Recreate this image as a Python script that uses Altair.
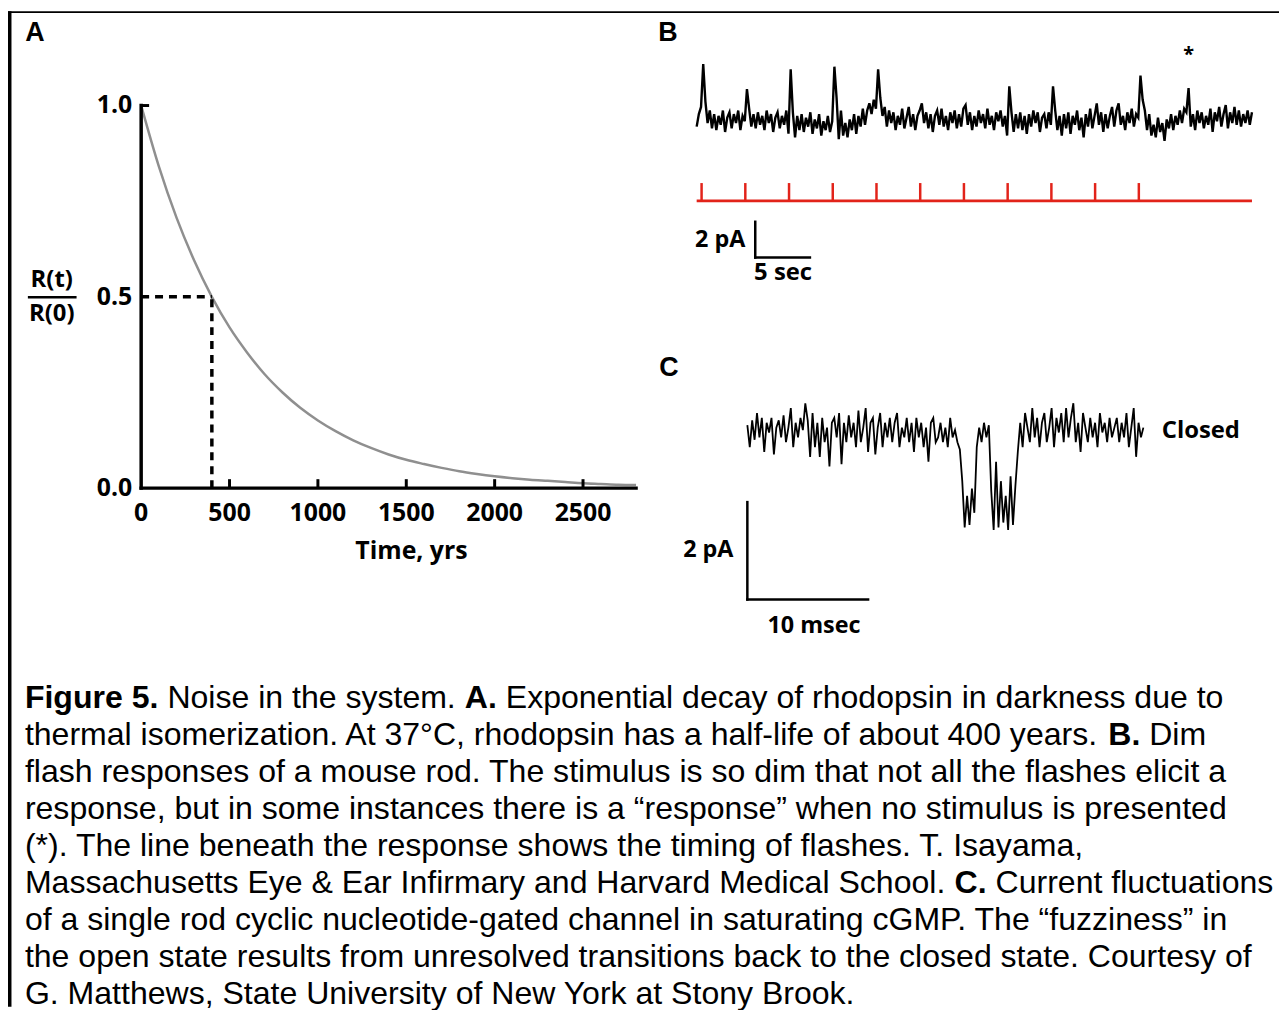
import altair as alt
import pandas as pd

# ---------------- data ----------------
# Panel A: exponential decay of rhodopsin (half-life about 400 years)
decay_years = [0, 100, 200, 300, 400, 500, 600, 700, 800, 900, 1000, 1100, 1200, 1300,
               1400, 1500, 1600, 1700, 1800, 1900, 2000, 2100, 2200, 2300, 2400, 2500,
               2600, 2700, 2800]
decay_fraction = [1.000, 0.841, 0.707, 0.595, 0.500, 0.420, 0.354, 0.297, 0.250, 0.210,
                  0.177, 0.149, 0.125, 0.105, 0.088, 0.074, 0.063, 0.053, 0.044, 0.037,
                  0.031, 0.026, 0.022, 0.019, 0.016, 0.013, 0.011, 0.009, 0.008]
half_life_years = 400
half_fraction = 0.5
a_x_ticks = [500, 1000, 1500, 2000, 2500]
a_x_labels = ["0", "500", "1000", "1500", "2000", "2500"]
a_x_label_values = [0, 500, 1000, 1500, 2000, 2500]
a_y_labels = ["0.0", "0.5", "1.0"]
a_y_label_values = [0.0, 0.5, 1.0]

# Panel B: dim flash responses of a mouse rod (pA), one sample every 0.2 s
b_dt = 0.2
b_current = [
    -0.4, 0.3, 0.7, 3.1, 1.0, -0.2, 0.5, -0.5, 0.3, -0.6,
    0.2, -0.3, 0.5, -0.7, 0.1, 0.4, -0.5, 0.3, -0.2, 0.5,
    -0.6, 0.2, -0.1, 1.7, 0.6, -0.4, 0.3, -0.5, 0.4, -0.3,
    0.2, -0.6, 0.5, -0.2, 0.3, -0.7, 0.1, 0.4, -0.5, 0.2,
    -0.3, 0.5, -0.8, 2.8, 0.4, -1.0, 0.2, -0.6, 0.3, -0.7,
    0.1, -0.4, 0.4, -0.8, 0.0, -0.5, 0.3, -0.9, -0.1, -0.6,
    0.2, -0.7, -0.1, 2.95, 1.2, -1.1, 0.5, -0.9, -0.2, -1.0,
    0.0, -0.6, 0.3, -0.8, 0.2, -0.4, 0.6, -0.3, 0.5, 0.9,
    0.3, 1.1, 0.6, 2.8, 1.2, 0.2, 0.7, -0.4, 0.5, -0.2,
    0.4, -0.6, 0.2, -0.3, 0.6, -0.5, 0.1, 0.7, -0.4, 0.3,
    -0.6, 0.2, 0.5, 0.9, -0.2, 0.4, -0.5, 0.3, -0.7, 0.2,
    0.5, -0.3, 0.6, -0.4, 0.2, -0.6, 0.4, -0.2, 0.5, -0.5,
    0.3, -0.4, 0.6, 0.8, -0.3, 0.4, -0.6, 0.2, -0.4, 0.5,
    -0.2, 0.3, -0.5, 0.6, -0.3, 0.2, -0.6, 0.4, -0.1, 0.5,
    -0.4, 0.2, -0.9, 1.85, 0.4, -0.7, 0.3, -0.5, 0.4, -0.6,
    0.2, -0.8, 0.3, -0.4, 0.5, -0.2, 0.4, -0.7, 0.1, 0.3,
    -0.5, 0.4, -0.3, 1.85, 0.5, -0.6, 0.2, -0.9, 0.3, -0.5,
    0.4, -0.8, 0.2, -0.3, 0.5, -0.6, 0.1, -1.0, 0.3, -0.4,
    0.6, -0.5, 0.2, 0.9, -0.3, 0.4, -0.7, 0.3, -0.5, 0.2,
    0.7, -0.4, 0.5, 0.9, -0.3, 0.2, -0.6, 0.4, -0.2, 0.6,
    -0.4, 0.3, 0.1, 2.45, 1.1, 0.5, -0.6, 0.3, -0.9, -0.3,
    -1.0, 0.1, -0.7, -0.2, -1.2, 0.0, -0.5, 0.3, -0.6, 0.2,
    -0.3, 0.5, -0.2, 0.6, 0.4, 1.75, -0.4, 0.3, -0.6, 0.5,
    -0.2, 0.4, -0.5, 0.2, -0.3, 0.6, -0.7, 0.4, -0.1, 0.7,
    -0.4, 0.3, 0.8, -0.5, 0.4, -0.2, 0.7, -0.3, 0.5, -0.4,
    0.3, -0.2, 0.5, -0.3, 0.4,
]
b_flash_times = [0.45, 4.45, 8.45, 12.45, 16.45, 20.45, 24.45, 28.45, 32.45, 36.45, 40.45]
b_star_time = 45.0
b_bar_pA = 2
b_bar_sec = 5

# Panel C: single CNG channel current (pA, 0 = closed), one sample every 0.2 ms
c_dt = 0.2
c_current = [
    0.15, -0.30, 0.25, -0.15, 0.40, -0.10, 0.30, -0.40, 0.20, 0.00,
    0.30, -0.45, 0.10, 0.25, -0.10, 0.35, -0.20, 0.10, 0.50, -0.30,
    0.20, -0.10, 0.30, 0.05, 0.60, 0.25, -0.50, 0.40, -0.30, 0.20,
    -0.50, 0.30, -0.20, 0.10, -0.70, 0.20, 0.30, -0.10, 0.40, -0.65,
    0.20, -0.20, 0.35, -0.10, 0.20, -0.30, 0.45, -0.20, 0.10, 0.50,
    -0.40, 0.20, 0.30, -0.45, 0.10, 0.40, -0.30, 0.20, -0.10, 0.30,
    -0.20, 0.20, 0.40, -0.30, 0.10, -0.10, 0.30, -0.20, 0.20, -0.40,
    0.30, -0.10, 0.20, -0.30, 0.10, -0.60, 0.20, 0.30, -0.20, -0.10,
    0.20, -0.20, 0.10, -0.30, 0.30, -0.10, 0.05, -0.20, -0.35,
    -1.00, -1.95, -1.30, -1.90, -1.15, -1.65, -0.30,
    0.10, -0.20, 0.20, -0.10, 0.15,
    -1.20, -2.00, -0.60, -1.95, -1.00, -1.85, -1.30, -2.00, -0.90, -1.90, -1.10, -0.40,
    0.20, -0.30, 0.40, 0.10, -0.20, 0.50, -0.10, 0.30, -0.30, 0.20,
    0.40, -0.20, 0.10, 0.50, -0.30, 0.30, 0.00, 0.40, -0.20, 0.50,
    -0.10, 0.30, 0.60, -0.20, 0.20, -0.40, 0.40, 0.10, -0.20, 0.30,
    -0.10, 0.20, -0.30, 0.40, 0.00, 0.20, -0.20, 0.30, -0.10, 0.10,
    0.30, -0.20, 0.20, -0.10, 0.40, -0.30, 0.10, 0.50, -0.50, 0.20,
    -0.10, 0.10,
]
c_bar_pA = 2
c_bar_ms = 10

# Caption (segments: text, bold)
caption_lines = [
    [("Figure 5.", True), (" Noise in the system. ", False), ("A.", True),
     (" Exponential decay of rhodopsin in darkness due to", False)],
    [("thermal isomerization. At 37\u00b0C, rhodopsin has a half-life of about 400 years. ", False),
     ("B.", True), (" Dim", False)],
    [("flash responses of a mouse rod. The stimulus is so dim that not all the flashes elicit a", False)],
    [("response, but in some instances there is a \u201cresponse\u201d when no stimulus is presented", False)],
    [("(*). The line beneath the response shows the timing of flashes. T. Isayama,", False)],
    [("Massachusetts Eye & Ear Infirmary and Harvard Medical School. ", False), ("C.", True),
     (" Current fluctuations", False)],
    [("of a single rod cyclic nucleotide-gated channel in saturating cGMP. The \u201cfuzziness\u201d in", False)],
    [("the open state results from unresolved transitions back to the closed state. Courtesy of", False)],
    [("G. Matthews, State University of New York at Stony Brook.", False)],
]

# ---------------- layout ----------------
W, H = 1279, 1002
LBL_FONT = "Open Sans"
CAP_FONT = "Liberation Sans"
CAP_SIZE = 32.25

# Arial / Helvetica advance widths (1/1000 em) used to place bold runs inside caption lines
REG = {' ': 278, '.': 278, ',': 278, '(': 333, ')': 333, '*': 389, '&': 667, '-': 333,
       '\u201c': 333, '\u201d': 333, '\u00b0': 400,
       'A': 667, 'B': 667, 'C': 722, 'D': 722, 'E': 667, 'F': 611, 'G': 778, 'H': 722, 'I': 278,
       'J': 500, 'K': 667, 'L': 556, 'M': 833, 'N': 722, 'O': 778, 'P': 667, 'Q': 778, 'R': 722,
       'S': 667, 'T': 611, 'U': 722, 'V': 667, 'W': 944, 'X': 667, 'Y': 667, 'Z': 611,
       'a': 556, 'b': 556, 'c': 500, 'd': 556, 'e': 556, 'f': 278, 'g': 556, 'h': 556, 'i': 222,
       'j': 222, 'k': 500, 'l': 222, 'm': 833, 'n': 556, 'o': 556, 'p': 556, 'q': 556, 'r': 333,
       's': 500, 't': 278, 'u': 556, 'v': 500, 'w': 722, 'x': 500, 'y': 500, 'z': 500}
BOLD = {' ': 278, '.': 278, 'A': 722, 'B': 722, 'C': 722, 'F': 611, 'i': 278, 'g': 611,
        'u': 611, 'r': 389, 'e': 556}


def tw(s, bold):
    tab = BOLD if bold else REG
    return sum(tab.get(ch, 556) for ch in s) * CAP_SIZE / 1000.0


rows = []
for i, segs in enumerate(caption_lines):
    cx = 17.0
    cy = 701.5 + 37.2 * i
    for text, bold in segs:
        lead = len(text) - len(text.lstrip(' '))
        rows.append({"text": text.strip(), "x": cx + tw(' ' * lead, bold), "y": cy, "bold": bold})
        cx += tw(text, bold)
cap_df = pd.DataFrame(rows)

one = pd.DataFrame({"d": [0]})

A_X = alt.Scale(domain=[0, 2800], range=[134, 632], nice=False, zero=False)
A_Y = alt.Scale(domain=[0, 1], range=[480, 95], nice=False, zero=False)
B_X = alt.Scale(domain=[0, 50], range=[693, 1243], nice=False, zero=False)
B_Y = alt.Scale(domain=[-8, 4], range=[253, 37], nice=False, zero=False)
C_X = alt.Scale(domain=[0, 33], range=[744, 744 + 33 * 12.15], nice=False, zero=False)
C_Y = alt.Scale(domain=[-3.5, 1], range=[424 + 3.5 * 49, 424 - 49], nice=False, zero=False)


def label(text, x, y, size=22, align="center", baseline="middle", font=LBL_FONT, weight="bold"):
    return alt.Chart(one).mark_text(text=text, align=align, baseline=baseline, font=font,
                                    fontSize=size, fontWeight=weight, color="black").encode(
        x=alt.value(x), y=alt.value(y))


layers = []

# frame of the figure
layers.append(alt.Chart(one).mark_rect(color="black").encode(
    x=alt.value(0), x2=alt.value(W), y=alt.value(0), y2=alt.value(2)))
layers.append(alt.Chart(one).mark_rect(color="black").encode(
    x=alt.value(0), x2=alt.value(3.5), y=alt.value(0), y2=alt.value(H)))

# ---------- Panel A ----------
dfA = pd.DataFrame({"t": decay_years, "r": decay_fraction})
layers.append(alt.Chart(dfA).mark_line(color="#8f8f8f", strokeWidth=2.5, interpolate="monotone").encode(
    x=alt.X("t:Q", scale=A_X, axis=None), y=alt.Y("r:Q", scale=A_Y, axis=None)))

dfHalf = pd.DataFrame({"t0": [0], "t1": [half_life_years], "r0": [0.0], "r1": [half_fraction]})
layers.append(alt.Chart(dfHalf).mark_rule(color="black", strokeWidth=3.5, strokeDash=[8, 6]).encode(
    x=alt.X("t0:Q", scale=A_X, axis=None), x2="t1:Q", y=alt.Y("r1:Q", scale=A_Y, axis=None)))
layers.append(alt.Chart(dfHalf).mark_rule(color="black", strokeWidth=3.5, strokeDash=[8, 6]).encode(
    x=alt.X("t1:Q", scale=A_X, axis=None), y=alt.Y("r0:Q", scale=A_Y, axis=None), y2="r1:Q"))

dfAx = pd.DataFrame({"x0": [0], "x1": [2800], "y0": [0.0], "y1": [1.0]})
layers.append(alt.Chart(dfAx).mark_rule(color="black", strokeWidth=3.5, strokeCap="square").encode(
    x=alt.X("x0:Q", scale=A_X, axis=None), x2="x1:Q", y=alt.Y("y0:Q", scale=A_Y, axis=None)))
layers.append(alt.Chart(dfAx).mark_rule(color="black", strokeWidth=3.5, strokeCap="square").encode(
    x=alt.X("x0:Q", scale=A_X, axis=None), y=alt.Y("y0:Q", scale=A_Y, axis=None), y2="y1:Q"))
layers.append(alt.Chart(pd.DataFrame({"v": a_x_ticks})).mark_rule(color="black", strokeWidth=3).encode(
    x=alt.X("v:Q", scale=A_X, axis=None), y=alt.value(480), y2=alt.value(471)))
layers.append(alt.Chart(dfAx).mark_rule(color="black", strokeWidth=3).encode(
    x=alt.value(134), x2=alt.value(142), y=alt.Y("y1:Q", scale=A_Y, axis=None)))

layers.append(alt.Chart(pd.DataFrame({"v": a_x_label_values, "lab": a_x_labels})).mark_text(
    font=LBL_FONT, fontSize=25, fontWeight="bold", baseline="middle", color="black").encode(
    x=alt.X("v:Q", scale=A_X, axis=None), y=alt.value(505), text="lab:N"))
layers.append(alt.Chart(pd.DataFrame({"v": a_y_label_values, "lab": a_y_labels})).mark_text(
    font=LBL_FONT, fontSize=25, fontWeight="bold", baseline="middle", align="right", color="black").encode(
    x=alt.value(125), y=alt.Y("v:Q", scale=A_Y, axis=None), text="lab:N"))
layers.append(label("Time, yrs", 406, 543, size=25))
layers.append(label("R(t)", 44, 271, size=24))
layers.append(label("R(0)", 44, 305, size=24))
layers.append(alt.Chart(one).mark_rule(color="black", strokeWidth=2.5).encode(
    x=alt.value(20), x2=alt.value(69), y=alt.value(288)))
layers.append(label("A", 27, 22, size=27, font=CAP_FONT))

# ---------- Panel B ----------
dfB = pd.DataFrame({"t": [i * b_dt for i in range(len(b_current))], "pA": b_current})
layers.append(alt.Chart(dfB).mark_line(color="black", strokeWidth=2.4, strokeJoin="miter").encode(
    x=alt.X("t:Q", scale=B_X, axis=None), y=alt.Y("pA:Q", scale=B_Y, axis=None)))

b_end = (len(b_current) - 1) * b_dt
layers.append(alt.Chart(pd.DataFrame({"t0": [0.0], "t1": [b_end]})).mark_rule(color="#e2231a", strokeWidth=2.8).encode(
    x=alt.X("t0:Q", scale=B_X, axis=None), x2="t1:Q", y=alt.value(191)))
layers.append(alt.Chart(pd.DataFrame({"t": b_flash_times})).mark_rule(color="#e2231a", strokeWidth=2.5).encode(
    x=alt.X("t:Q", scale=B_X, axis=None), y=alt.value(192), y2=alt.value(173)))
layers.append(alt.Chart(pd.DataFrame({"t": [b_star_time]})).mark_text(
    text="*", font=LBL_FONT, fontSize=20, fontWeight="bold", baseline="alphabetic", color="black").encode(
    x=alt.X("t:Q", scale=B_X, axis=None), y=alt.value(50)))

b_bar = pd.DataFrame({"t0": [5.36], "t1": [5.36 + b_bar_sec], "v0": [-7.72], "v1": [-7.72 + b_bar_pA]})
layers.append(alt.Chart(b_bar).mark_rule(color="black", strokeWidth=2.5, strokeCap="square").encode(
    x=alt.X("t0:Q", scale=B_X, axis=None), y=alt.Y("v0:Q", scale=B_Y, axis=None), y2="v1:Q"))
layers.append(alt.Chart(b_bar).mark_rule(color="black", strokeWidth=2.5, strokeCap="square").encode(
    x=alt.X("t0:Q", scale=B_X, axis=None), x2="t1:Q", y=alt.Y("v0:Q", scale=B_Y, axis=None)))
layers.append(label("2 pA", 742, 230, size=23.5, align="right"))
layers.append(label("5 sec", 780, 264, size=24))
layers.append(label("B", 664, 22, size=27, font=CAP_FONT))

# ---------- Panel C ----------
dfC = pd.DataFrame({"t": [i * c_dt for i in range(len(c_current))], "pA": c_current})
layers.append(alt.Chart(dfC).mark_line(color="black", strokeWidth=1.8).encode(
    x=alt.X("t:Q", scale=C_X, axis=None), y=alt.Y("pA:Q", scale=C_Y, axis=None)))
c_bar = pd.DataFrame({"t0": [0.0], "t1": [c_bar_ms], "v0": [-3.43], "v1": [-3.43 + c_bar_pA]})
layers.append(alt.Chart(c_bar).mark_rule(color="black", strokeWidth=2.5, strokeCap="square").encode(
    x=alt.X("t0:Q", scale=C_X, axis=None), y=alt.Y("v0:Q", scale=C_Y, axis=None), y2="v1:Q"))
layers.append(alt.Chart(c_bar).mark_rule(color="black", strokeWidth=2.5, strokeCap="square").encode(
    x=alt.X("t0:Q", scale=C_X, axis=None), x2="t1:Q", y=alt.Y("v0:Q", scale=C_Y, axis=None)))
layers.append(label("2 pA", 730, 542, size=23.5, align="right"))
layers.append(label("10 msec", 811, 619, size=23.5))
layers.append(label("Closed", 1161, 423, size=24, align="left"))
layers.append(label("C", 665, 359, size=27, font=CAP_FONT))

# ---------- Caption ----------
for is_bold in (False, True):
    sub = cap_df[cap_df["bold"] == is_bold][["text", "x", "y"]]
    layers.append(alt.Chart(sub).mark_text(
        align="left", baseline="alphabetic", font=CAP_FONT, fontSize=CAP_SIZE,
        fontWeight="bold" if is_bold else "normal", color="black").encode(
        x=alt.X("x:Q", scale=None, axis=None), y=alt.Y("y:Q", scale=None, axis=None), text="text:N"))

chart = alt.layer(*layers).resolve_scale(x="independent", y="independent").properties(
    width=W, height=H, autosize=alt.AutoSizeParams(type="none"), padding=0
).configure_view(stroke=None)

chart.save("out.html", embed_options={"renderer": "svg", "actions": False})
